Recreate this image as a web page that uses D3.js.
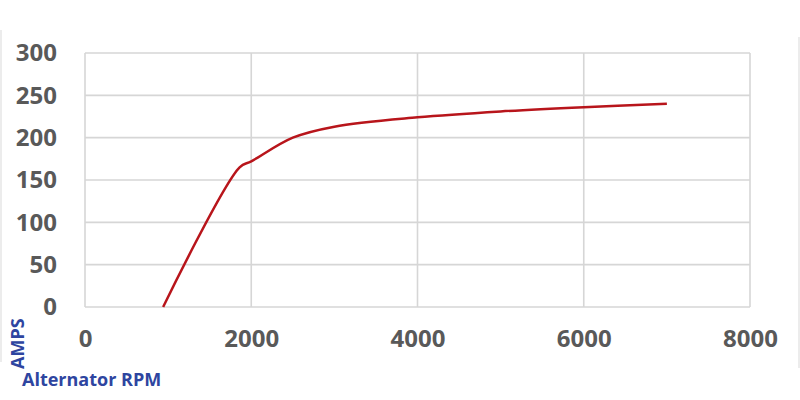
<!DOCTYPE html>
<html>
<head>
<meta charset="utf-8">
<script src="https://cdn.jsdelivr.net/npm/d3@7"></script>
<style>
  body { margin: 0; background: #fff; }
  svg { display: block; }
</style>
</head>
<body>
<svg id="chart"></svg>
<script>
// alternator output curve
const rpm  = [940, 1860, 2000, 2500, 3000, 4000, 5000, 6000, 7000];
const amps = [0,   165,  172,  200,  213,  224,  231,  236,  240];
const xTicks = [0, 2000, 4000, 6000, 8000];
const yTicks = [0, 50, 100, 150, 200, 250, 300];

const w = 800, h = 400;
const svg = d3.select("#chart").attr("width", w).attr("height", h);

const x = d3.scaleLinear().domain([0, 8000]).range([85, 750]);
const y = d3.scaleLinear().domain([0, 300]).range([307, 53]);

// faint chart-area frame lines at the edges
svg.append("line").attr("x1", 1).attr("x2", 1).attr("y1", 30).attr("y2", 362)
  .attr("stroke", "#e6e6e6").attr("stroke-width", 1.5);
svg.append("line").attr("x1", 799).attr("x2", 799).attr("y1", 37).attr("y2", 368)
  .attr("stroke", "#e6e6e6").attr("stroke-width", 1.5);

// gridlines
svg.append("g")
  .selectAll("line")
  .data(yTicks)
  .enter()
  .append("line")
  .attr("x1", x(0)).attr("x2", x(8000))
  .attr("y1", d => y(d)).attr("y2", d => y(d))
  .attr("stroke", "#d6d6d6").attr("stroke-width", 1.6);
svg.append("g")
  .selectAll("line")
  .data(xTicks)
  .enter()
  .append("line")
  .attr("x1", d => x(d)).attr("x2", d => x(d))
  .attr("y1", y(0)).attr("y2", y(300))
  .attr("stroke", "#d6d6d6").attr("stroke-width", 1.6);

// axes, only for labels
const yAxis = d3.axisLeft(y).tickValues(yTicks).tickSize(0).tickPadding(0);
svg.append("g")
  .attr("transform", "translate(57,0)")
  .call(yAxis)
  .call(g => g.select(".domain").remove())
  .selectAll("text")
    .attr("font-family", "'Open Sans', sans-serif")
    .attr("font-size", "24px")
    .attr("font-weight", "bold")
    .attr("fill", "#595959");

const xAxis = d3.axisBottom(x).tickValues(xTicks).tickFormat(d3.format("d"))
  .tickSize(0).tickPadding(0);
svg.append("g")
  .attr("transform", "translate(0,330)")
  .call(xAxis)
  .call(g => g.select(".domain").remove())
  .selectAll("text")
    .attr("font-family", "'Open Sans', sans-serif")
    .attr("font-size", "24px")
    .attr("font-weight", "bold")
    .attr("fill", "#595959");

// the curve
const lineFun = d3.line()
  .x((d, i) => x(rpm[i]))
  .y(d => y(d))
  .curve(d3.curveCatmullRom.alpha(0.5));
svg.append("path")
  .attr("d", lineFun(amps))
  .attr("fill", "none")
  .attr("stroke", "#b8151b")
  .attr("stroke-width", 2.5);

// axis titles
svg.append("text")
  .attr("transform", "translate(24,369) rotate(-90)")
  .text("AMPS")
  .attr("font-family", "'Open Sans', sans-serif")
  .attr("font-size", "18px")
  .attr("font-weight", "bold")
  .attr("fill", "#2e45a0");
svg.append("text")
  .attr("x", 22)
  .attr("y", 386)
  .text("Alternator RPM")
  .attr("font-family", "'Open Sans', sans-serif")
  .attr("font-size", "18px")
  .attr("font-weight", "bold")
  .attr("fill", "#2e45a0");
</script>
</body>
</html>
